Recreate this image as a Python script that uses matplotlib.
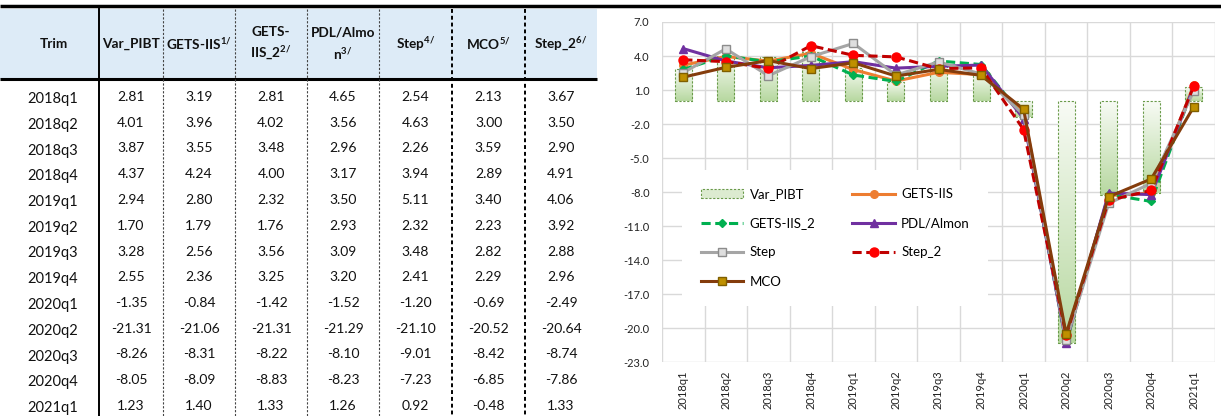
import numpy as np
import matplotlib
matplotlib.use("Agg")
import matplotlib.pyplot as plt
from matplotlib.colors import LinearSegmentedColormap
from matplotlib.patches import Rectangle

plt.rcParams['font.family'] = ['Lato', 'DejaVu Sans']
plt.rcParams['mathtext.fontset'] = 'custom'
plt.rcParams['mathtext.rm'] = 'Lato'
plt.rcParams['mathtext.bf'] = 'Lato:bold'

trim = ['2018q1', '2018q2', '2018q3', '2018q4', '2019q1', '2019q2', '2019q3',
        '2019q4', '2020q1', '2020q2', '2020q3', '2020q4', '2021q1']
var_pibt = [2.81, 4.01, 3.87, 4.37, 2.94, 1.70, 3.28, 2.55, -1.35, -21.31, -8.26, -8.05, 1.23]
gets_iis = [3.19, 3.96, 3.55, 4.24, 2.80, 1.79, 2.56, 2.36, -0.84, -21.06, -8.31, -8.09, 1.40]
gets_iis_2 = [2.81, 4.02, 3.48, 4.00, 2.32, 1.76, 3.56, 3.25, -1.42, -21.31, -8.22, -8.83, 1.33]
pdl_almon = [4.65, 3.56, 2.96, 3.17, 3.50, 2.93, 3.09, 3.20, -1.52, -21.29, -8.10, -8.23, 1.26]
step = [2.54, 4.63, 2.26, 3.94, 5.11, 2.32, 3.48, 2.41, -1.20, -21.10, -9.01, -7.23, 0.92]
mco = [2.13, 3.00, 3.59, 2.89, 3.40, 2.23, 2.82, 2.29, -0.69, -20.52, -8.42, -6.85, -0.48]
step_2 = [3.67, 3.50, 2.90, 4.91, 4.06, 3.92, 2.88, 2.96, -2.49, -20.64, -8.74, -7.86, 1.33]

headers = ['Trim', 'Var_PIBT', r'GETS-IIS$^{\mathbf{1/}}$', 'GETS-\n' + r'IIS_2$^{\mathbf{2/}}$',
           'PDL/Almo\n' + r'n$^{\mathbf{3/}}$', r'Step$^{\mathbf{4/}}$', r'MCO$^{\mathbf{5/}}$',
           r'Step_2$^{\mathbf{6/}}$']
columns = [var_pibt, gets_iis, gets_iis_2, pdl_almon, step, mco, step_2]

W, H = 1221, 416
fig = plt.figure(figsize=(W / 100, H / 100), dpi=100)

# ---- table drawn in pixel coordinates ----
tab = fig.add_axes([0, 0, 1, 1])
tab.set_xlim(0, W)
tab.set_ylim(H, 0)
tab.axis('off')

edges = [0, 99, 163, 235, 307, 379, 452, 525, 597]
tab.add_patch(Rectangle((0, 9), 597, 70, facecolor='#ddebf7', edgecolor='none'))
tab.plot([0, W], [6, 6], color='black', lw=2.5, solid_capstyle='butt')
tab.plot([0, 597], [79, 79], color='black', lw=2.2, solid_capstyle='butt')

tab.plot([99, 99], [9, H], color='black', lw=1.4)
for x in edges[2:-1]:
    thick = x >= 452
    tab.plot([x, x], [9, H], color='black' if thick else '#444444',
             lw=1.4 if thick else 0.8, ls=(0, (2, 1.5)))

for j, h in enumerate(headers):
    cx = (edges[j] + edges[j + 1]) / 2
    tab.text(cx + (4 if j == 0 else 0), 44, h, ha='center', va='center',
             fontsize=9.8, fontweight='bold', color='#111111', linespacing=1.45)

y0, dy = 98, 25.75
for r, q in enumerate(trim):
    y = y0 + r * dy
    tab.text(53, y + 1, q, ha='center', va='center', fontsize=10.5, color='#111111')
    for j, col in enumerate(columns):
        cx = (edges[j + 1] + edges[j + 2]) / 2
        tab.text(cx, y - 1, f'{col[r]:.2f}', ha='center', va='center',
                 fontsize=10, color='#111111')

# ---- chart ----
ax = fig.add_axes([662 / W, (H - 362) / H, (1215 - 662) / W, 340 / H])
x = np.arange(len(trim))

cmap = LinearSegmentedColormap.from_list('bar', ['#f8fbf5', '#b7d8a0'])
grad = np.linspace(0, 1, 200).reshape(-1, 1)
bw = 0.4
for xi, v in zip(x, var_pibt):
    lo, hi = min(0, v), max(0, v)
    ax.imshow(grad, cmap=cmap, aspect='auto', extent=(xi - bw / 2, xi + bw / 2, lo, hi),
              zorder=2, interpolation='bilinear')
    ax.add_patch(Rectangle((xi - bw / 2, lo), bw, hi - lo, facecolor='none',
                           edgecolor='#6a9a4a', lw=0.8, ls=(0, (2, 1.5)), zorder=2.1))
bar_handle = Rectangle((0, 0), 1, 1, facecolor='#dcebd0', edgecolor='#6a9a4a',
                       lw=0.8, ls=(0, (2, 1.5)))

lw = 2.2
h_gets, = ax.plot(x, gets_iis, color='#ed7d31', lw=lw, marker='o', ms=5.5, zorder=3)
h_gets2, = ax.plot(x, gets_iis_2, color='#00b050', lw=lw, ls=(0, (3, 1.5)), marker='D',
                   ms=4.5, zorder=3.1)
h_pdl, = ax.plot(x, pdl_almon, color='#7030a0', lw=lw, marker='^', ms=6, zorder=3.2)
h_step, = ax.plot(x, step, color='#a5a5a5', lw=lw, marker='s', ms=6,
                  markerfacecolor='#dedede', markeredgecolor='#8c8c8c', zorder=3.3)
h_step2, = ax.plot(x, step_2, color='#c00000', lw=lw, ls=(0, (3, 1.5)), marker='o', ms=6.5,
                   markerfacecolor='#ff0000', markeredgecolor='#ff0000', zorder=3.4)
h_mco, = ax.plot(x, mco, color='#843c0c', lw=lw, marker='s', ms=6,
                 markerfacecolor='#bf9000', markeredgecolor='#7f5f00', zorder=3.5)

ax.set_xlim(-0.5, len(trim) - 0.5)
ax.set_ylim(-23, 7)
ax.set_yticks(np.arange(-23, 8, 3))
ax.yaxis.set_major_formatter(matplotlib.ticker.FormatStrFormatter('%.1f'))
ax.set_xticks(x)
ax.set_xticklabels(trim, rotation=90, fontsize=8, color='#222222')
ax.tick_params(axis='y', labelsize=8, labelcolor='#222222', length=0, pad=9)
ax.tick_params(axis='x', length=0, pad=6)
for s in ax.spines.values():
    s.set_visible(False)
ax.yaxis.grid(True, color='#d9d9d9', lw=1, zorder=0)
for b in np.arange(-0.5, len(trim), 1):
    ax.axvline(b, color='#d9d9d9', lw=1, zorder=0)
ax.set_axisbelow(True)

handles = [bar_handle, h_gets2, h_step, h_mco, h_gets, h_pdl, h_step2]
labels = ['Var_PIBT', 'GETS-IIS_2', 'Step', 'MCO', 'GETS-IIS', 'PDL/Almon', 'Step_2']
leg = ax.legend(handles, labels, ncol=2, loc='upper left', bbox_to_anchor=(0.025, 0.585),
                fontsize=9.5, frameon=True, fancybox=False, framealpha=1,
                edgecolor='none', facecolor='white', handlelength=3.2,
                labelspacing=1.3, columnspacing=2.8, borderpad=1.4, numpoints=1,
                handletextpad=0.5)
leg.set_zorder(5)

fig.savefig('out.png', dpi=100)
